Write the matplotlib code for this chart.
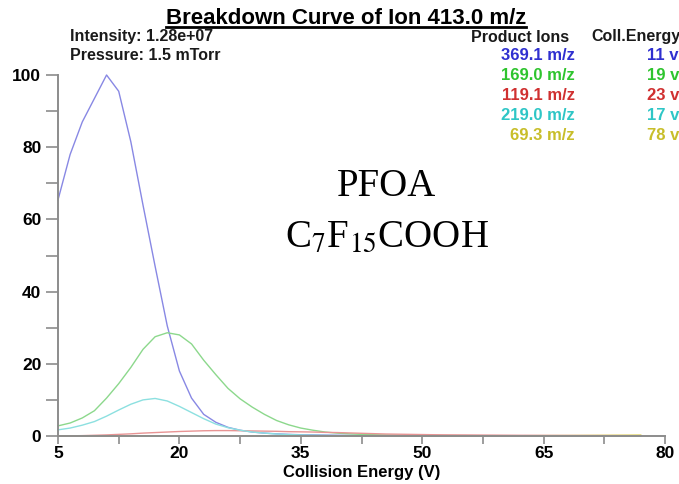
import numpy as np
import matplotlib
matplotlib.use('Agg')
import matplotlib.pyplot as plt
from matplotlib.lines import Line2D

plt.rcParams['font.family'] = 'Liberation Sans'
plt.rcParams['mathtext.fontset'] = 'stix'

# collision energy grid (V)
energies = [5.0, 6.5, 8.0, 9.5, 11.0, 12.5, 14.0, 15.5, 17.0, 18.5,
            20.0, 21.5, 23.0, 24.5, 26.0, 27.5, 29.0, 30.5, 32.0, 33.5,
            35.0, 36.5, 38.0, 39.5, 41.0, 42.5, 44.0, 45.5, 47.0, 48.5,
            50.0, 51.5, 53.0, 54.5, 56.0, 57.5, 59.0, 60.5, 62.0, 63.5,
            65.0, 66.5, 68.0, 69.5, 71.0, 72.5, 74.0, 75.5, 77.0]

ion_369 = [65.4, 78, 87, 93.5, 100, 95.5, 81.5, 64, 47, 30.5,
           18, 10.5, 6, 3.8, 2.4, 1.6, 1.1, 0.8, 0.6, 0.45,
           0.35, 0.3, 0.25, 0.2, 0.18, 0.16, 0.14, 0.12, 0.11, 0.1,
           0.09, 0.09, 0.08, 0.08, 0.07, 0.07, 0.06, 0.06, 0.06, 0.05,
           0.05, 0.05, 0.05, 0.04, 0.04, 0.04, 0.04, 0.03, 0.03]
ion_169 = [2.8, 3.6, 5, 7, 10.5, 14.5, 19, 24, 27.5, 28.6,
           28, 25.5, 21, 17, 13.2, 10.3, 8, 6, 4.3, 3.1,
           2.2, 1.6, 1.1, 0.8, 0.6, 0.45, 0.35, 0.28, 0.22, 0.18,
           0.15, 0.13, 0.11, 0.1, 0.09, 0.08, 0.08, 0.07, 0.07, 0.06,
           0.06, 0.06, 0.05, 0.05, 0.05, 0.05, 0.04, 0.04, 0.04]
ion_119 = [0, 0.05, 0.1, 0.2, 0.3, 0.45, 0.6, 0.8, 0.95, 1.1,
           1.25, 1.35, 1.45, 1.5, 1.5, 1.45, 1.4, 1.35, 1.3, 1.2,
           1.15, 1.1, 1.0, 0.95, 0.85, 0.75, 0.65, 0.55, 0.5, 0.45,
           0.4, 0.35, 0.32, 0.3, 0.28, 0.26, 0.24, 0.22, 0.2, 0.19,
           0.18, 0.17, 0.16, 0.15, 0.14, 0.13, 0.12, 0.11, 0.1]
ion_219 = [1.7, 2.2, 3, 4, 5.5, 7.2, 8.8, 10, 10.4, 9.7,
           8.2, 6.5, 4.8, 3.3, 2.3, 1.6, 1.1, 0.8, 0.55, 0.4,
           0.3, 0.22, 0.17, 0.13, 0.1, 0.08, 0.07, 0.06, 0.05, 0.05,
           0.04, 0.04, 0.04, 0.04, 0.04, 0.03, 0.03, 0.03, 0.03, 0.03,
           0.03, 0.03, 0.02, 0.02, 0.02, 0.02, 0.02, 0.02, 0.02]
ion_69 = [0.02, 0.02, 0.02, 0.02, 0.02, 0.02, 0.02, 0.02, 0.02, 0.02,
          0.02, 0.02, 0.02, 0.02, 0.02, 0.02, 0.02, 0.02, 0.02, 0.02,
          0.02, 0.02, 0.02, 0.02, 0.02, 0.02, 0.02, 0.02, 0.02, 0.02,
          0.03, 0.03, 0.04, 0.04, 0.05, 0.05, 0.06, 0.07, 0.08, 0.09,
          0.1, 0.11, 0.12, 0.14, 0.16, 0.18, 0.2, 0.22, 0.25]

ion_labels = ['369.1 m/z', '169.0 m/z', '119.1 m/z', '219.0 m/z', '69.3 m/z']
coll_energy = ['11 v', '19 v', '23 v', '17 v', '78 v']
series = [ion_369, ion_169, ion_119, ion_219, ion_69]
line_colors = ['#8888e4', '#8cd88c', '#e89494', '#8ce0e0', '#dcd048']
text_colors = ['#2f2fd0', '#2ec42e', '#d03030', '#2ec6c6', '#c8be2a']

gray = '#8c8c8c'

fig = plt.figure(figsize=(6.79, 4.84), dpi=100)
ax = fig.add_axes([58/679, 48/484, 607/679, 361/484])

for vals, c in zip(series, line_colors):
    ax.plot(energies, vals, color=c, lw=1.0, clip_on=False)

ax.set_xlim(5, 80)
ax.set_ylim(0, 100)
for s in ['top', 'right']:
    ax.spines[s].set_visible(False)
for s in ['left', 'bottom']:
    ax.spines[s].set_color(gray)
    ax.spines[s].set_linewidth(1.4)

ax.set_xticks([5, 20, 35, 50, 65, 80])
ax.set_xticks([12.5, 27.5, 42.5, 57.5, 72.5], minor=True)
ax.set_yticks([0, 20, 40, 60, 80, 100])
ax.set_yticks([10, 30, 50, 70, 90], minor=True)
ax.tick_params(axis='y', which='both', length=9, width=1.2, color=gray,
               pad=3, labelsize=12.5)
ax.tick_params(axis='x', which='both', length=6, width=1.2, color=gray,
               pad=1, labelsize=12.5)
for lbl in ax.get_xticklabels() + ax.get_yticklabels():
    lbl.set_fontweight('bold')

ax.set_xlabel('Collision Energy (V)', fontsize=12, fontweight='bold', labelpad=3)

# header
title = fig.text(346/679, 1 - 24/484, 'Breakdown Curve of Ion 413.0 m/z',
                 ha='center', va='baseline', fontsize=16, fontweight='bold')
fig.text(70/679, 1 - 37/484, 'Intensity: 1.28e+07', va='center',
         fontsize=11.5, fontweight='bold', color='#1a1a1a')
fig.text(70/679, 1 - 55/484, 'Pressure: 1.5 mTorr', va='center',
         fontsize=11.5, fontweight='bold', color='#1a1a1a')

fig.text(569/679, 1 - 37/484, 'Product Ions', ha='right', va='center',
         fontsize=11.5, fontweight='bold', color='#1a1a1a')
fig.text(591/679, 1 - 37/484, 'Coll.Energy', ha='left', va='center',
         fontsize=11.5, fontweight='bold', color='#1a1a1a')
for i, (lab, ce, c) in enumerate(zip(ion_labels, coll_energy, text_colors)):
    y = 1 - (56 + 20 * i) / 484
    fig.text(575/679, y, lab, ha='right', va='center', fontsize=12,
             fontweight='bold', color=c)
    fig.text(647/679, y, ce, ha='left', va='center', fontsize=12,
             fontweight='bold', color=c)

fig.text(386/679, 1 - 186/484, 'PFOA', ha='center', va='center',
         fontsize=28, family='Liberation Serif')
fig.text(387/679, 1 - 237/484, r'C$_7$F$_{15}$COOH', ha='center', va='center',
         fontsize=28, family='Liberation Serif')

# underline the title
fig.canvas.draw()
bb = title.get_window_extent().transformed(fig.transFigure.inverted())
uy = 1 - 26.5/484
fig.add_artist(Line2D([bb.x0, bb.x1], [uy, uy],
                      transform=fig.transFigure, color='black', lw=2))

fig.savefig('out.png', dpi=100)
